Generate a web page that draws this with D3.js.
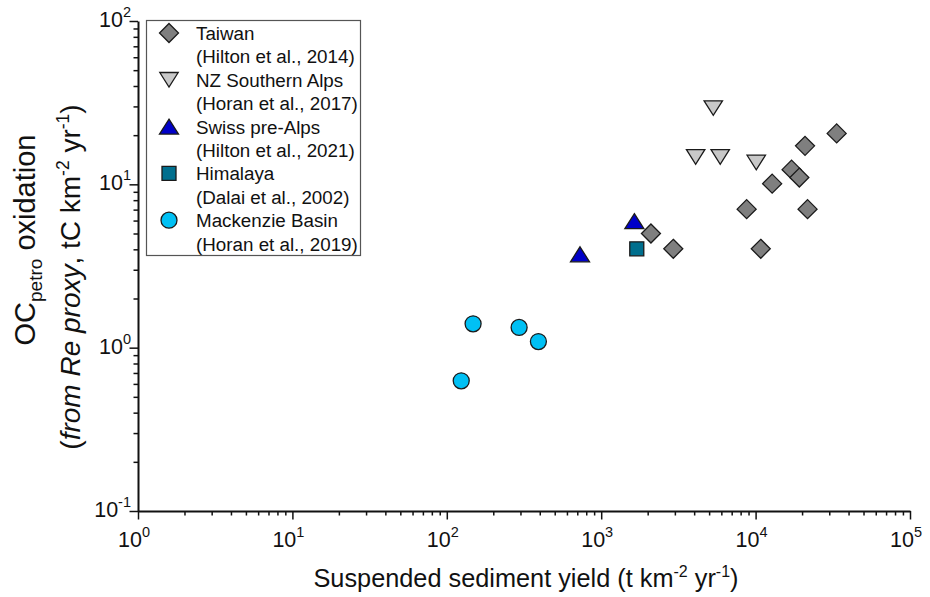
<!DOCTYPE html>
<html>
<head>
<meta charset="utf-8">
<script src="https://cdn.jsdelivr.net/npm/d3@7"></script>
<style>
  body { margin: 0; background: #fff; }
  text { font-family: "Liberation Sans", Arial, sans-serif; fill: #111; }
</style>
</head>
<body>
<div id="chart"></div>
<script>
'use strict'

// data (x: t km-2 yr-1, y: tC km-2 yr-1)
const taiwanX = [2100, 2930, 8750, 10800, 12800, 17100, 19200, 20900, 21700, 33500]
const taiwanY = [5.0, 4.03, 7.05, 4.03, 10.1, 12.3, 11.0, 17.2, 7.05, 20.5]
const nzX = [4090, 5320, 5900, 10100]
const nzY = [14.7, 29.3, 14.7, 13.6]
const swissX = [729, 1640]
const swissY = [3.73, 5.95]
const himalayaX = [1700]
const himalayaY = [4.03]
const mackenzieX = [124, 148, 294, 392]
const mackenzieY = [0.627, 1.40, 1.33, 1.09]

const siteNames = ["Taiwan", "NZ Southern Alps", "Swiss pre-Alps", "Himalaya", "Mackenzie Basin"]
const siteRefs = ["(Hilton et al., 2014)", "(Horan et al., 2017)", "(Hilton et al., 2021)", "(Dalai et al., 2002)", "(Horan et al., 2019)"]
const xTicks = [1, 10, 100, 1000, 10000, 100000]
const yTicks = [0.1, 1, 10, 100]

const width = 930
const height = 597
const plot = { left: 138, right: 910, top: 21, bottom: 511 }

const shapes = ["diamond", "down", "up", "square", "circle"]
const fills = ["#7f7f7f", "#c8c8c8", "#0000c8", "#006f8e", "#00c0f4"]
const seriesX = [taiwanX, nzX, swissX, himalayaX, mackenzieX]
const seriesY = [taiwanY, nzY, swissY, himalayaY, mackenzieY]

let xscale = d3.scaleLog().domain([1, 1e5]).range([plot.left, plot.right])
let yscale = d3.scaleLog().domain([0.1, 100]).range([plot.bottom, plot.top])

/*
  marker path centred on 0,0
*/
function markerPath(shape) {
  if (shape == "diamond") return "M0,-9.5L9.5,0L0,9.5L-9.5,0Z"
  if (shape == "down") return "M-9.2,-7.3L9.2,-7.3L0,7.3Z"
  if (shape == "up") return "M0,-7.5L9.5,7.5L-9.5,7.5Z"
  if (shape == "square") return "M-7,-7L7,-7L7,7L-7,7Z"
  return d3.arc()({ innerRadius: 0, outerRadius: 8, startAngle: 0, endAngle: 2 * Math.PI })
}

// exponent of a power of ten
function expOf(v) {
  return Math.round(Math.log10(v))
}

// minor ticks 2..9 in each decade
function minors(lo, hi) {
  let out = []
  for (let d = lo; d < hi; d *= 10) {
    for (let k = 2; k <= 9; k++) out.push(d * k)
  }
  return out
}

let svg = d3.select("#chart").append("svg")
  .attr("width", width)
  .attr("height", height)

// minor ticks
svg.append("g")
  .attr("transform", "translate(0," + plot.bottom + ")")
  .call(d3.axisBottom(xscale).tickValues(minors(1, 1e5)).tickSize(4.5).tickFormat(""))
  .call(g => g.select(".domain").remove())
svg.append("g")
  .attr("transform", "translate(" + plot.left + ",0)")
  .call(d3.axisLeft(yscale).tickValues(minors(0.1, 100)).tickSize(4.5).tickFormat(""))
  .call(g => g.select(".domain").remove())

// major axes
svg.append("g")
  .attr("transform", "translate(0," + plot.bottom + ")")
  .call(d3.axisBottom(xscale).tickValues(xTicks).tickSize(8.5).tickSizeOuter(0).tickFormat(""))
svg.append("g")
  .attr("transform", "translate(" + plot.left + ",0)")
  .call(d3.axisLeft(yscale).tickValues(yTicks).tickSize(8.5).tickSizeOuter(0).tickFormat(""))

svg.selectAll(".domain").attr("stroke", "#111").attr("stroke-width", 2)
svg.selectAll(".tick line").attr("stroke", "#111").attr("stroke-width", 1.5)

// tick labels as 10^n
xTicks.forEach(v => {
  let t = svg.append("text")
    .attr("x", xscale(v) - 4)
    .attr("y", plot.bottom + 36)
    .attr("text-anchor", "middle")
    .style("font-size", "21.5px")
  t.append("tspan").text("10")
  t.append("tspan").attr("dy", -10).style("font-size", "14.5px").text(expOf(v))
})
yTicks.forEach(v => {
  let t = svg.append("text")
    .attr("x", plot.left - 7)
    .attr("y", yscale(v) + 6)
    .attr("text-anchor", "end")
    .style("font-size", "21.5px")
  t.append("tspan").text("10")
  t.append("tspan").attr("dy", -10).style("font-size", "14.5px").text(expOf(v))
})

// axis titles
let xt = svg.append("text")
  .attr("x", 526)
  .attr("y", 587)
  .attr("text-anchor", "middle")
  .style("font-size", "25.3px")
xt.append("tspan").text("Suspended sediment yield (t km")
xt.append("tspan").attr("dy", -10).style("font-size", "16px").text("-2")
xt.append("tspan").attr("dy", 10).text(" yr")
xt.append("tspan").attr("dy", -10).style("font-size", "16px").text("-1")
xt.append("tspan").attr("dy", 10).text(")")

let yt1 = svg.append("text")
  .attr("transform", "translate(35,240) rotate(-90)")
  .attr("text-anchor", "middle")
  .style("font-size", "29px")
yt1.append("tspan").text("OC")
yt1.append("tspan").attr("dy", 7).style("font-size", "19px").text("petro")
yt1.append("tspan").attr("dy", -7).text(" oxidation")

let yt2 = svg.append("text")
  .attr("transform", "translate(80,277) rotate(-90)")
  .attr("text-anchor", "middle")
  .style("font-size", "28px")
yt2.append("tspan").text("(")
yt2.append("tspan").style("font-style", "italic").text("from Re proxy")
yt2.append("tspan").text(", tC km")
yt2.append("tspan").attr("dy", -11).style("font-size", "17.5px").text("-2")
yt2.append("tspan").attr("dy", 11).text(" yr")
yt2.append("tspan").attr("dy", -11).style("font-size", "17.5px").text("-1")
yt2.append("tspan").attr("dy", 11).text(")")

// points
seriesX.forEach((xs, s) => {
  svg.append("g").selectAll("path")
    .data(xs)
    .enter()
    .append("path")
    .attr("d", markerPath(shapes[s]))
    .attr("transform", (d, i) => "translate(" + xscale(d) + "," + yscale(seriesY[s][i]) + ")")
    .attr("fill", fills[s])
    .attr("stroke", "#1a1a1a")
    .attr("stroke-width", 1.3)
})

// legend
let lg = svg.append("g")
lg.append("rect")
  .attr("x", 146.5).attr("y", 20.5)
  .attr("width", 214).attr("height", 235)
  .attr("fill", "#fff")
  .attr("stroke", "#555")
  .attr("stroke-width", 1.2)

siteNames.forEach((name, i) => {
  let cy = 33 + i * 46.8
  lg.append("path")
    .attr("d", markerPath(shapes[i]))
    .attr("transform", "translate(169," + cy + ")")
    .attr("fill", fills[i])
    .attr("stroke", "#1a1a1a")
    .attr("stroke-width", 1.3)
  lg.append("text")
    .attr("x", 196).attr("y", cy + 7)
    .style("font-size", "18.8px")
    .text(name)
  lg.append("text")
    .attr("x", 196).attr("y", cy + 30.4)
    .style("font-size", "18.8px")
    .text(siteRefs[i])
})
</script>
</body>
</html>
